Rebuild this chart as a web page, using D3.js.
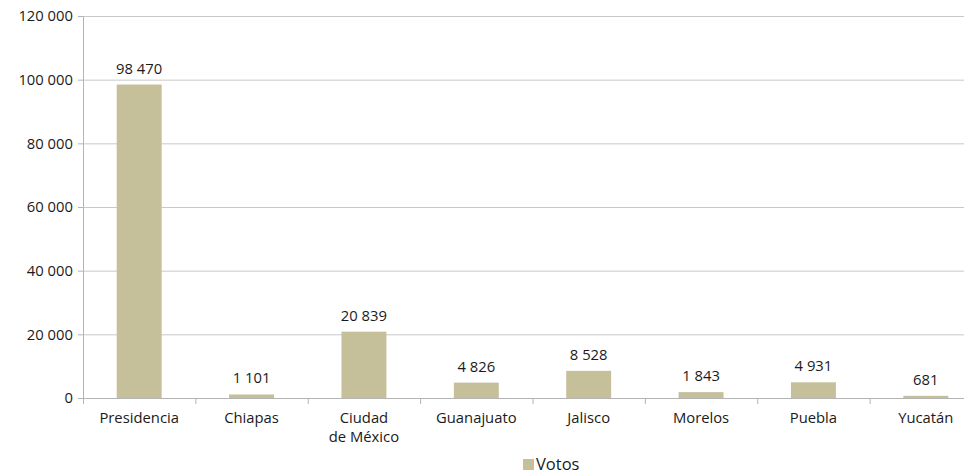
<!DOCTYPE html>
<html>
<head>
<meta charset="utf-8">
<script src="https://cdn.jsdelivr.net/npm/d3@7"></script>
<style>
  body { margin: 0; background: #fff; }
  svg text { font-family: 'Open Sans', sans-serif; fill: #1a1a1a; }
</style>
</head>
<body>
<svg width="964" height="474"></svg>
<script>
const categories = ['Presidencia', 'Chiapas', 'Ciudad\nde México', 'Guanajuato', 'Jalisco', 'Morelos', 'Puebla', 'Yucatán'];
const votos = [98470, 1101, 20839, 4826, 8528, 1843, 4931, 681];
const yTicks = [0, 20000, 40000, 60000, 80000, 100000, 120000];
const seriesName = 'Votos';

const data = categories.map((c, i) => ({ name: c, value: votos[i] }));

const svg = d3.select('svg');
const margin = {top: 16, right: -18, bottom: 76, left: 83};
const width = +svg.attr('width') - margin.left - margin.right;
const height = +svg.attr('height') - margin.top - margin.bottom;
const g = svg.append('g')
  .attr('transform', `translate(${margin.left},${margin.top})`);

const fmt = v => d3.format(',')(v).replace(/,/g, ' ');

const x = d3.scaleBand()
  .domain(categories)
  .range([0, width])
  .paddingInner(0.6)
  .paddingOuter(0.3);

const xBand = d3.scaleBand()
  .domain(categories)
  .range([0, width]);

const y = d3.scaleLinear()
  .domain([0, 120000])
  .range([height, 0]);

// gridlines
g.append('g')
  .selectAll('line')
  .data(yTicks)
  .enter().append('line')
    .attr('x1', 0)
    .attr('x2', width)
    .attr('y1', d => y(d) + 0.5)
    .attr('y2', d => y(d) + 0.5)
    .attr('stroke', '#c8c8c8')
    .attr('stroke-width', 1);

// y axis
const yAxis = g.append('g')
  .attr('class', 'axis axis--y')
  .call(d3.axisLeft(y)
    .tickValues(yTicks)
    .tickFormat(fmt)
    .tickSize(5)
    .tickPadding(5));
yAxis.select('.domain').attr('stroke', '#b4b4b4');
yAxis.selectAll('.tick line').attr('stroke', '#b4b4b4');
yAxis.selectAll('text').style('font-size', '14.8px').attr('fill', '#1a1a1a');

// bars
g.selectAll('.bar')
  .data(data)
  .enter().append('rect')
    .attr('class', 'bar')
    .attr('x', d => x(d.name))
    .attr('y', d => y(d.value))
    .attr('width', x.bandwidth())
    .attr('height', d => height - y(d.value))
    .attr('fill', '#c5bf9a');

// value labels
g.selectAll('.label')
  .data(data)
  .enter().append('text')
    .attr('class', 'label')
    .attr('x', d => x(d.name) + x.bandwidth() / 2)
    .attr('y', d => y(d.value) - 11)
    .attr('text-anchor', 'middle')
    .style('font-size', '14.8px')
    .text(d => fmt(d.value));

// x axis
const xAxisG = g.append('g')
  .attr('transform', `translate(0,${height})`);
xAxisG.append('line')
  .attr('x1', 0).attr('x2', width)
  .attr('y1', 0.5).attr('y2', 0.5)
  .attr('stroke', '#b4b4b4');
xAxisG.selectAll('.xtick')
  .data(categories.concat(['end']))
  .enter().append('line')
    .attr('x1', (d, i) => i < categories.length ? xBand(d) + 0.5 : width)
    .attr('x2', (d, i) => i < categories.length ? xBand(d) + 0.5 : width)
    .attr('y1', 0)
    .attr('y2', 6)
    .attr('stroke', '#b4b4b4');

const xLabels = xAxisG.selectAll('.xlabel')
  .data(categories)
  .enter().append('text')
    .attr('x', d => xBand(d) + xBand.bandwidth() / 2)
    .attr('y', 25)
    .attr('text-anchor', 'middle')
    .style('font-size', '14.8px');
xLabels.each(function(d) {
  const lines = d.split('\n');
  d3.select(this).selectAll('tspan')
    .data(lines)
    .enter().append('tspan')
      .attr('x', xBand(d) + xBand.bandwidth() / 2)
      .attr('dy', (l, i) => i === 0 ? 0 : 19)
      .text(l => l);
});

// legend
const legend = svg.append('g')
  .attr('transform', 'translate(523,459)');
legend.append('rect')
  .attr('width', 11)
  .attr('height', 11)
  .attr('fill', '#c5bf9a');
legend.append('text')
  .attr('x', 13)
  .attr('y', 11)
  .style('font-size', '16.5px')
  .text(seriesName);
</script>
</body>
</html>
